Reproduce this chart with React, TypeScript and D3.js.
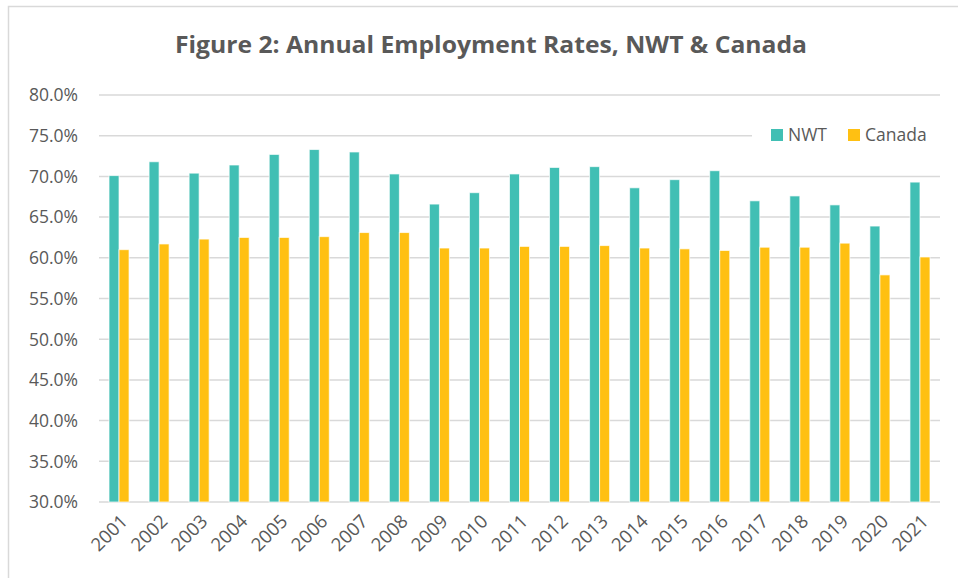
import React from "react";
import * as d3 from "d3";

const years = ["2001","2002","2003","2004","2005","2006","2007","2008","2009","2010","2011","2012","2013","2014","2015","2016","2017","2018","2019","2020","2021"];
const nwt = [70.1,71.8,70.4,71.4,72.7,73.3,73.0,70.3,66.6,68.0,70.3,71.1,71.2,68.6,69.6,70.7,67.0,67.6,66.5,63.9,69.3];
const canada = [61.0,61.7,62.3,62.5,62.5,62.6,63.1,63.1,61.2,61.2,61.4,61.4,61.5,61.2,61.1,60.9,61.3,61.3,61.8,57.9,60.1];
const yTicks = [30,35,40,45,50,55,60,65,70,75,80];
const seriesNames = ["NWT","Canada"];
const colors = ["#41BFB4","#FFC012"];

export default function App() {
  const W = 958, H = 578;
  const left = 99, right = 940, top = 95, bottom = 502;
  const x = d3.scaleBand<string>().domain(years).range([left, right]).paddingInner(0.5).paddingOuter(0.25);
  const xs = d3.scaleBand<string>().domain(seriesNames).range([0, x.bandwidth()]);
  const y = d3.scaleLinear().domain([30, 80]).range([bottom, top]);
  const font = "'Open Sans', 'Noto Sans', sans-serif";
  const data = [nwt, canada];
  return (
    <svg width={W} height={H} style={{ position: "absolute", left: 0, top: 0, background: "#fff" }}>
      <rect x={0} y={0} width={W} height={H} fill="#fff" />
      <path d={`M8.5,${H} V6.5 H${W}`} fill="none" stroke="#D9D9D9" strokeWidth={1.5} />
      <text x={491} y={53} textAnchor="middle" fontFamily={font} fontWeight={700} fontSize={24} fill="#595959" textLength={632} lengthAdjust="spacingAndGlyphs">
        Figure 2: Annual Employment Rates, NWT &amp; Canada
      </text>
      {yTicks.map((t) => (
        <g key={t}>
          <line x1={left} x2={right} y1={y(t)} y2={y(t)} stroke="#D9D9D9" strokeWidth={1.5} />
          <text x={78} y={y(t)} dy="0.36em" textAnchor="end" fontFamily={font} fontSize={17.5} fill="#595959">
            {d3.format(".1f")(t)}%
          </text>
        </g>
      ))}
      {data.map((vals, si) =>
        vals.map((v, i) => (
          <rect key={`${si}-${i}`} x={(x(years[i]) ?? 0) + (xs(seriesNames[si]) ?? 0)} y={y(v)} width={xs.bandwidth()} height={y(30) - y(v)}
            fill={colors[si]} stroke="#fff" strokeOpacity={0.7} strokeWidth={1} />
        ))
      )}
      {years.map((yr) => {
        const cx = (x(yr) ?? 0) + x.bandwidth() / 2;
        return (
          <text key={yr} transform={`translate(${cx + 5},${518}) rotate(-45)`} textAnchor="end" dy="0.35em" fontFamily={font} fontSize={18.5} fill="#595959">
            {yr}
          </text>
        );
      })}
      <g>
        <rect x={752} y={122} width={188} height={26} fill="#fff" />
        {seriesNames.map((s, i) => {
          const lx = [771, 848][i];
          return (
            <g key={s}>
              <rect x={lx} y={129} width={12} height={12} fill={colors[i]} />
              <text x={lx + 17} y={135} dy="0.36em" fontFamily={font} fontSize={17.5} fill="#595959">{s}</text>
            </g>
          );
        })}
      </g>
    </svg>
  );
}
